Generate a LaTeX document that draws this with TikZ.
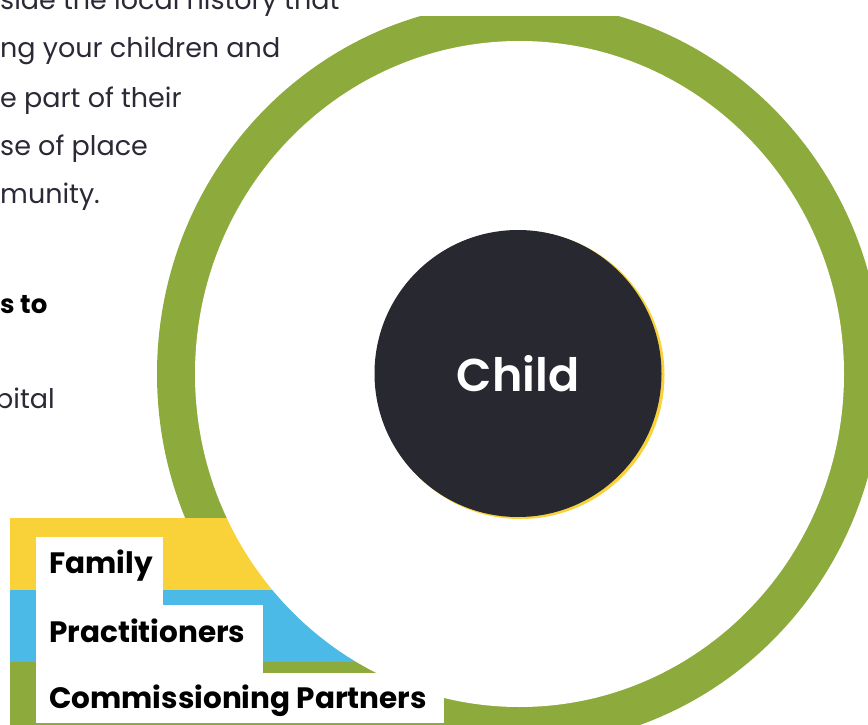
\documentclass[tikz,border=0pt]{standalone}
\usepackage{fontspec}
\setmainfont{Poppins}
\newfontfamily\childfont{Poppins SemiBold}

\definecolor{ringgreen}{HTML}{8DAA3D}
\definecolor{bandyellow}{HTML}{F9D23A}
\definecolor{bandblue}{HTML}{4CBAE6}
\definecolor{childdark}{HTML}{282831}
\definecolor{inkdark}{HTML}{2A2A36}

\begin{document}
\begin{tikzpicture}[x=1pt, y=-1pt,
    body/.style = {anchor=base west, inner sep=0pt, text=inkdark, font=\fontsize{27}{30}\selectfont},
    tag/.style = {anchor=base west, inner sep=0pt, font=\fontsize{29.5}{34}\selectfont\bfseries}]
    \useasboundingbox (0,0) rectangle (868,725);
    \clip (0,0) rectangle (868,725);

    % green ring, cut flat along the top
    \begin{scope}
        \clip (0,16.7) rectangle (868,725);
        \fill[ringgreen] (519.5,374) ellipse (362.5 and 372);
    \end{scope}

    % coloured bands behind the labels
    \fill[bandyellow] (10,518) rectangle (450,590);
    \fill[bandblue] (10,590) rectangle (450,662);
    \fill[ringgreen] (10,662) rectangle (450,725);

    % inside of the ring
    \fill[white] (519.5,374) ellipse (324.5 and 333);

    % child in the middle
    \fill[bandyellow] (520.5,375) circle (144);
    \node[circle, fill=childdark, minimum size=287pt, inner sep=0pt,
          text=white, font=\childfont\fontsize{46}{52}\selectfont] (child) at (518,373.5) {Child};

    % white steps with the labels
    \fill[white] (36,537) rectangle (163,723);
    \fill[white] (36,605) rectangle (263,723);
    \fill[white] (36,673) rectangle (444,723);
    \node[tag] (family) at (49,573) {Family};
    \node[tag] (practitioners) at (49,642) {Practitioners};
    \node[tag] (partners) at (49,708) {Commissioning Partners};

    % text on the left
    \node[body] (line1) at (0,9.5) {side the local history that};
    \node[body] (line2) at (0,58) {ng your children and};
    \node[body] (line3) at (0,107) {e part of their};
    \node[body] (line4) at (0,155) {se of place};
    \node[body] (line5) at (0,203) {munity.};
    \node[body, font=\fontsize{26}{30}\selectfont\bfseries, text=black] (line6) at (0,313) {s to};
    \node[body] (line7) at (-5,408) {pital};
\end{tikzpicture}
\end{document}
